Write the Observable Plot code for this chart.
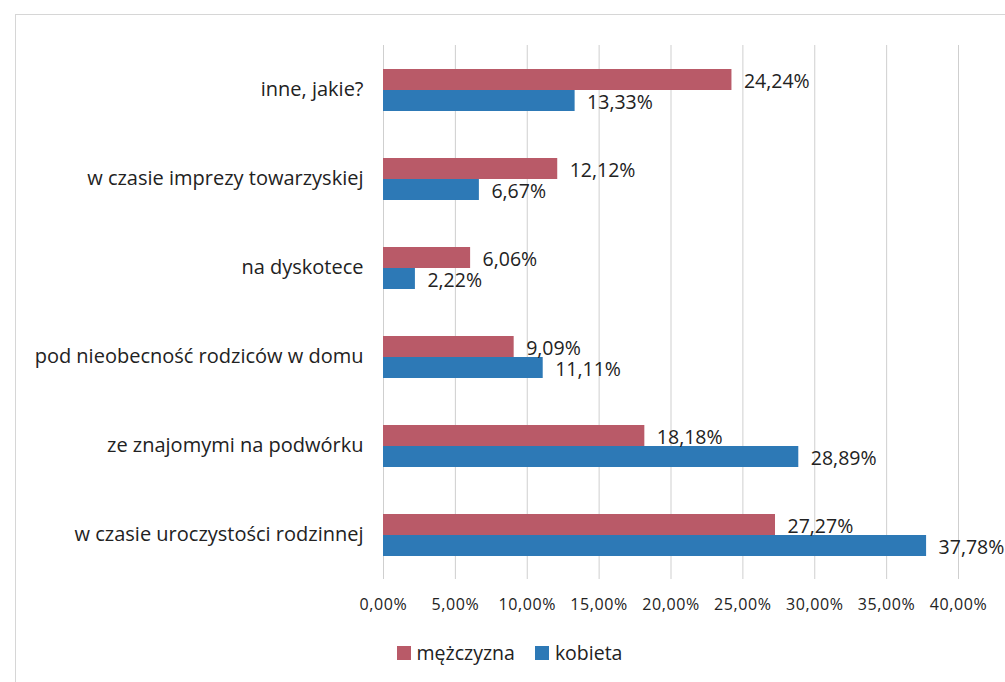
<!DOCTYPE html>
<html>
<head>
<meta charset="utf-8">
<script src="https://cdn.jsdelivr.net/npm/d3@7"></script>
<script src="https://cdn.jsdelivr.net/npm/@observablehq/plot@0.6"></script>
<style>
  html, body { margin: 0; padding: 0; background: #fff; }
  body { width: 1005px; height: 682px; overflow: hidden; position: relative; font-family: "Open Sans", sans-serif; }
  #frame { position: absolute; left: 15px; top: 14px; width: 1000px; height: 700px; border: 1px solid #d6d6d6; box-sizing: border-box; pointer-events: none; }
  #chart { position: absolute; left: 0; top: 0; }
  #legend { position: absolute; left: 0; top: 639px; width: 1005px; display: flex; justify-content: center; gap: 20px; font-size: 19.5px; color: #222; padding-left: 14px; box-sizing: border-box; }
  #legend .item { display: flex; align-items: center; gap: 6px; }
  #legend .sw { width: 14px; height: 14px; display: inline-block; }
  .xax text { letter-spacing: 0.6px; }
</style>
</head>
<body>
<div id="chart"></div>
<div id="legend"></div>
<div id="frame"></div>
<script>
const categories = [
  "inne, jakie?",
  "w czasie imprezy towarzyskiej",
  "na dyskotece",
  "pod nieobecność rodziców w domu",
  "ze znajomymi na podwórku",
  "w czasie uroczystości rodzinnej"
];
const seriesNames = ["mężczyzna", "kobieta"];
const menValues = [24.24, 12.12, 6.06, 9.09, 18.18, 27.27];
const womenValues = [13.33, 6.67, 2.22, 11.11, 28.89, 37.78];
const xTicks = [0, 5, 10, 15, 20, 25, 30, 35, 40];
const colors = ["#b95a68", "#2d79b6"];

const fmt = v => v.toFixed(2).replace(".", ",") + "%";

const data = [];
categories.forEach((c, i) => {
  data.push({category: c, series: seriesNames[0], value: menValues[i]});
  data.push({category: c, series: seriesNames[1], value: womenValues[i]});
});

const chart = Plot.plot({
  width: 1005,
  height: 625,
  marginTop: 43,
  marginBottom: 45,
  marginLeft: 383,
  marginRight: 47,
  style: {fontFamily: "Open Sans, sans-serif", color: "#222", background: "transparent"},
  x: {domain: [0, 40], label: null},
  fy: {domain: categories, padding: 0, label: null},
  y: {domain: seriesNames, axis: null, paddingInner: 0, paddingOuter: 1.08},
  color: {domain: seriesNames, range: colors},
  marks: [
    Plot.gridX(xTicks, {stroke: "#cfcfcf", strokeOpacity: 1}),
    Plot.barX(data, {fy: "category", y: "series", x: "value", fill: "series"}),
    Plot.text(data, {fy: "category", y: "series", x: "value", text: d => fmt(d.value), textAnchor: "start", dx: 12, dy: 2, fontSize: 19.5, fill: "#222"}),
    Plot.axisFy({anchor: "left", tickSize: 0, tickPadding: 20, fontSize: 20, label: null}),
    Plot.axisX({ticks: xTicks, tickFormat: fmt, tickSize: 0, tickPadding: 19, fontSize: 16, label: null, className: "xax"})
  ]
});
document.getElementById("chart").appendChild(chart);

const legend = document.getElementById("legend");
seriesNames.forEach((s, i) => {
  const item = document.createElement("div");
  item.className = "item";
  const sw = document.createElement("span");
  sw.className = "sw";
  sw.style.background = colors[i];
  const t = document.createElement("span");
  t.textContent = s;
  item.appendChild(sw);
  item.appendChild(t);
  legend.appendChild(item);
});
</script>
</body>
</html>
